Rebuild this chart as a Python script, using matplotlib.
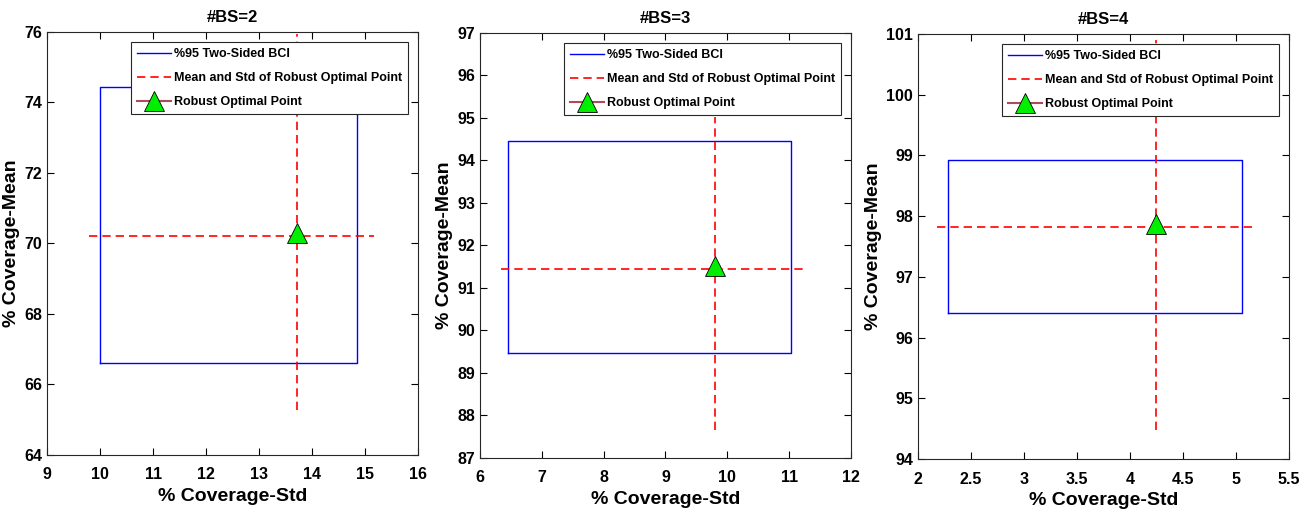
import matplotlib
matplotlib.use("Agg")
import matplotlib.pyplot as plt
import numpy as np

plt.rcParams['font.family'] = ['Liberation Sans', 'DejaVu Sans']
plt.rcParams['font.weight'] = 'bold'

titles = ["#BS=2", "#BS=3", "#BS=4"]

# bootstrap confidence box: std range (x) and mean range (y)
bci_std_lo = [10.0, 6.45, 2.28]
bci_std_hi = [14.85, 11.03, 5.06]
bci_mean_lo = [66.61, 89.47, 96.40]
bci_mean_hi = [74.44, 94.46, 98.92]

# robust optimal point
opt_std = [13.72, 9.80, 4.25]
opt_mean = [70.30, 91.52, 97.87]

# dashed cross (mean and std lines)
cross_y = [70.22, 91.45, 97.82]
cross_x_lo = [9.80, 6.34, 2.18]
cross_x_hi = [15.17, 11.23, 5.15]
cross_x = [13.72, 9.80, 4.25]
cross_y_lo = [65.28, 87.66, 94.48]
cross_y_hi = [75.95, 95.02, 100.90]

xlims = [(9, 16), (6, 12), (2, 5.5)]
ylims = [(64, 76), (87, 97), (94, 101)]
xticks = [np.arange(9, 17, 1), np.arange(6, 13, 1), np.arange(2, 5.51, 0.5)]
yticks = [np.arange(64, 77, 2), np.arange(87, 98, 1), np.arange(94, 102, 1)]

positions = [
    [0.0359, 0.1148, 0.2830, 0.8230],
    [0.3661, 0.1090, 0.2830, 0.8270],
    [0.7002, 0.1070, 0.2830, 0.8270],
]

fig = plt.figure(figsize=(13.11, 5.14), dpi=100)

for i in range(3):
    ax = fig.add_axes(positions[i])
    bx = [bci_std_lo[i], bci_std_hi[i], bci_std_hi[i], bci_std_lo[i], bci_std_lo[i]]
    by = [bci_mean_lo[i], bci_mean_lo[i], bci_mean_hi[i], bci_mean_hi[i], bci_mean_lo[i]]
    ax.plot(bx, by, color='blue', lw=1.0, label='%95 Two-Sided BCI')
    ax.plot([cross_x_lo[i], cross_x_hi[i]], [cross_y[i], cross_y[i]], '--',
            color='red', lw=1.2, dashes=(5, 3), label='Mean and Std of Robust Optimal Point')
    ax.plot([cross_x[i], cross_x[i]], [cross_y_lo[i], cross_y_hi[i]], '--',
            color='red', lw=1.2, dashes=(5, 3))
    ax.plot(opt_std[i], opt_mean[i], '^', color='#b04a5a', markerfacecolor='#00ee00',
            markeredgecolor='black', markeredgewidth=0.6, markersize=15, linestyle='-',
            label='Robust Optimal Point')

    ax.set_xlim(*xlims[i])
    ax.set_ylim(*ylims[i])
    ax.set_xticks(xticks[i])
    ax.set_yticks(yticks[i])
    ax.set_xticklabels([('%g' % v) for v in xticks[i]])
    ax.tick_params(direction='in', top=True, right=True, length=5, labelsize=11.5, width=0.8)
    ax.tick_params(axis='x', pad=9)
    for lab in ax.get_xticklabels() + ax.get_yticklabels():
        lab.set_fontweight('bold')
    for sp in ax.spines.values():
        sp.set_color('#262626')
        sp.set_linewidth(0.8)
    ax.set_xlabel('% Coverage-Std', fontsize=14, fontweight='bold', labelpad=4)
    ax.set_ylabel('% Coverage-Mean', fontsize=14, fontweight='bold', labelpad=3)
    ax.set_title(titles[i], fontsize=12, fontweight='bold', pad=7)

    leg = ax.legend(loc='upper right', fontsize=9, fancybox=False, framealpha=1,
                    edgecolor='#262626', borderaxespad=0.8, handlelength=2.7,
                    borderpad=0.5, labelspacing=0.95, handletextpad=0.2)
    leg.get_frame().set_linewidth(0.8)
    for t in leg.get_texts():
        t.set_fontweight('bold')

fig.savefig('out.png', dpi=100)
